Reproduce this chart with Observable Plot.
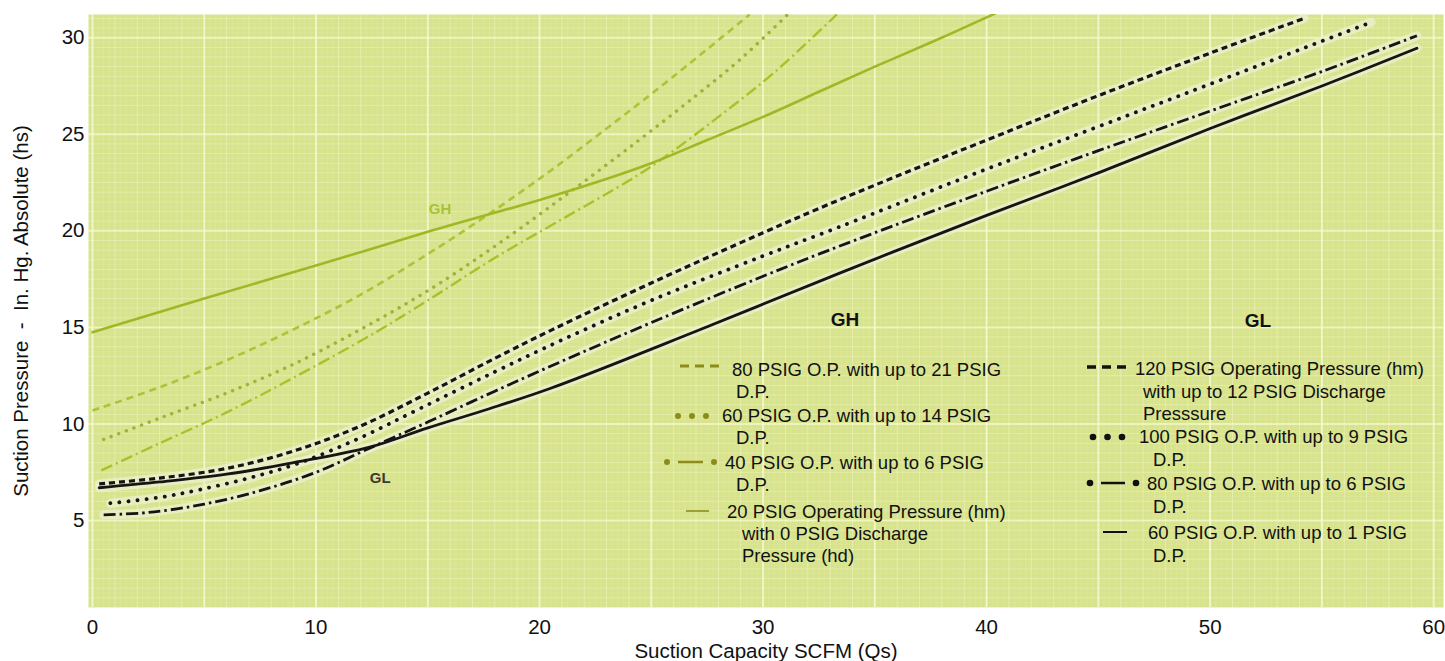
<!DOCTYPE html>
<html>
<head>
<meta charset="utf-8">
<script src="https://cdn.jsdelivr.net/npm/d3@7"></script>
<script src="https://cdn.jsdelivr.net/npm/@observablehq/plot@0.6"></script>
<style>
  html,body{margin:0;padding:0;background:#ffffff;}
  #chart{position:relative;width:1445px;height:661px;font-family:"Liberation Sans",Arial,Helvetica,sans-serif;}
  #chart svg{display:block;}
  #overlay{position:absolute;left:0;top:0;pointer-events:none;}
</style>
</head>
<body>
<div id="chart"></div>
<script>
// ---------------- data ----------------
const xTicks = [0, 10, 20, 30, 40, 50, 60];
const yTicks = [5, 10, 15, 20, 25, 30];

// GH family (yellow-green curves)
const gh20X = [0, 5, 10, 15, 20, 22.5, 25, 27.5, 30, 32.5, 35, 37.5, 40, 41.2];
const gh20Y = [14.75, 16.5, 18.2, 19.95, 21.6, 22.5, 23.5, 24.7, 25.9, 27.2, 28.5, 29.75, 31.05, 31.7];
const gh80X = [0, 3, 6, 9, 12, 15, 17, 20, 23, 26, 29.4];
const gh80Y = [10.7, 11.9, 13.3, 14.9, 16.7, 18.8, 20.3, 22.7, 25.3, 28.0, 31.2];
const gh60X = [0.5, 3, 6, 9, 12, 15, 18, 21, 24, 27, 29, 31.1];
const gh60Y = [9.2, 10.3, 11.6, 13.1, 14.9, 16.9, 19.2, 21.7, 24.3, 27.0, 28.9, 31.2];
const gh40X = [0.4, 3, 6, 9, 12.6, 15, 18, 21, 24, 25.4, 28, 30.5, 33.3];
const gh40Y = [7.6, 9.0, 10.6, 12.4, 14.7, 16.4, 18.6, 20.6, 22.6, 23.65, 25.9, 28.2, 31.2];

// GL family (black curves)
const gl120X = [0.3, 3, 6, 9, 12, 15, 18, 20.6, 25, 30, 33.4, 40, 45, 50, 54.2];
const gl120Y = [6.9, 7.2, 7.7, 8.6, 9.9, 11.6, 13.4, 14.9, 17.3, 19.9, 21.6, 24.7, 27.0, 29.2, 31.0];
const gl100X = [0.8, 3, 4.8, 7, 9.3, 12, 14.65, 18, 21, 25, 30, 33.4, 40, 45, 50, 57.2];
const gl100Y = [5.9, 6.2, 6.6, 7.2, 8.0, 9.3, 10.8, 12.7, 14.35, 16.4, 18.7, 20.2, 23.2, 25.4, 27.6, 30.8];
const gl80X = [0.5, 2.5, 5, 7.5, 10, 12.4, 15, 18, 21, 25, 30, 33.4, 40, 45, 50, 55, 59.25];
const gl80Y = [5.3, 5.42, 5.85, 6.55, 7.5, 8.75, 10.1, 11.7, 13.25, 15.25, 17.65, 19.2, 22.05, 24.15, 26.2, 28.25, 30.1];
const gl60X = [0.3, 3, 6, 9, 12.4, 15, 17.5, 20.5, 27, 33.4, 40, 45, 50, 55, 59.25];
const gl60Y = [6.7, 7.0, 7.4, 8.0, 8.8, 9.8, 10.7, 11.85, 14.8, 17.8, 20.8, 23.0, 25.3, 27.5, 29.45];

// in-plot annotations
const annoText = ["GH", "GL"];
const annoX = [15.55, 12.87];
const annoY = [21.1, 7.2];

// legend texts
const ghTitle = "GH";
const ghLegend = [
  ["80 PSIG O.P. with up to 21 PSIG", "D.P."],
  ["60 PSIG O.P. with up to 14 PSIG", "D.P."],
  ["40 PSIG O.P. with up to 6 PSIG", "D.P."],
  ["20 PSIG Operating Pressure (hm)", "with 0 PSIG Discharge", "Pressure (hd)"]
];
const glTitle = "GL";
const glLegend = [
  ["120 PSIG Operating Pressure (hm)", "with up to 12 PSIG Discharge", "Presssure"],
  ["100 PSIG O.P. with up to 9 PSIG", "D.P."],
  ["80 PSIG O.P. with up to 6 PSIG", "D.P."],
  ["60 PSIG O.P. with up to 1 PSIG", "D.P."]
];

// ---------------- styles ----------------
const FONT = "Liberation Sans, Arial, Helvetica, sans-serif";
const GH_LEG = "#8d8c1a";
const styles = {
  gh80:  {stroke: "#aec23a", strokeWidth: 2.6, strokeDasharray: "7,5", strokeLinecap: "butt"},
  gh60:  {stroke: "#a0b23a", strokeWidth: 3.4, strokeDasharray: "0.1,8", strokeLinecap: "round"},
  gh40:  {stroke: "#a9c22a", strokeWidth: 2.4, strokeDasharray: "12,4,2,4", strokeLinecap: "butt"},
  gh20:  {stroke: "#9fb826", strokeWidth: 2.6},
  gl120: {stroke: "#151512", strokeWidth: 3.2, strokeDasharray: "6,4", strokeLinecap: "butt"},
  gl100: {stroke: "#151512", strokeWidth: 3.8, strokeDasharray: "0.1,9", strokeLinecap: "round"},
  gl80:  {stroke: "#151512", strokeWidth: 2.8, strokeDasharray: "12,4,2.5,4", strokeLinecap: "butt"},
  gl60:  {stroke: "#151512", strokeWidth: 2.8}
};

function rows(xs, ys) { return xs.map((x, i) => ({x, y: ys[i]})); }
const series = [
  ["gh80", gh80X, gh80Y], ["gh60", gh60X, gh60Y], ["gh40", gh40X, gh40Y], ["gh20", gh20X, gh20Y],
  ["gl120", gl120X, gl120Y], ["gl100", gl100X, gl100Y], ["gl80", gl80X, gl80Y], ["gl60", gl60X, gl60Y]
];

const marks = [
  Plot.frame({fill: "#d8e38d", stroke: null}),
  Plot.gridX({interval: 0.25, stroke: "#f3f8c6", strokeOpacity: 0.16, strokeWidth: 1}),
  Plot.gridY({interval: 0.25, stroke: "#f3f8c6", strokeOpacity: 0.14, strokeWidth: 1}),
  Plot.gridX({interval: 1, stroke: "#f3f8c6", strokeOpacity: 0.4, strokeWidth: 1}),
  Plot.gridY({interval: 0.5, stroke: "#f3f8c6", strokeOpacity: 0.35, strokeWidth: 1}),
  Plot.gridX({interval: 5, stroke: "#f7fbd6", strokeOpacity: 0.7, strokeWidth: 2}),
  Plot.gridY({interval: 5, stroke: "#f7fbd6", strokeOpacity: 0.6, strokeWidth: 2})
];
// light halos behind the black curves
for (const [id, xs, ys] of series) {
  if (id.startsWith("gl")) {
    marks.push(Plot.line(rows(xs, ys), {x: "x", y: "y", curve: "catmull-rom", clip: true,
      stroke: "#eef0d2", strokeOpacity: 0.75, strokeWidth: 9}));
  }
}
for (const [id, xs, ys] of series) {
  marks.push(Plot.line(rows(xs, ys), {x: "x", y: "y", curve: "catmull-rom", clip: true, ...styles[id]}));
}
marks.push(Plot.text(annoText.map((t, i) => ({t, x: annoX[i], y: annoY[i]})), {
  x: "x", y: "y", text: "t", fontWeight: "bold", fontSize: 15,
  fill: d => d.t === "GH" ? "#a9c234" : "#3a3a30"
}));
marks.push(Plot.axisX({ticks: xTicks, tickSize: 0, tickPadding: 12, fontSize: 20.5, fill: "#111",
  label: "Suction Capacity SCFM (Qs)", labelAnchor: "center", labelOffset: 50, labelArrow: "none"}));
marks.push(Plot.axisY({ticks: yTicks, tickSize: 0, tickPadding: 4, fontSize: 20.5, fill: "#111",
  label: "Suction Pressure \u00a0-\u00a0 In. Hg. Absolute (hs)", labelAnchor: "center", labelOffset: 75, labelArrow: "none"}));

const chart = Plot.plot({
  width: 1445, height: 661,
  marginLeft: 88, marginRight: 2, marginTop: 14, marginBottom: 54,
  x: {domain: [-0.179, 60.44]},
  y: {domain: [0.5, 31.2]},
  style: {fontFamily: FONT, fontSize: "21px", color: "#111", background: "transparent"},
  marks
});
const host = document.getElementById("chart");
host.appendChild(chart);

// ---------------- legend overlay ----------------
const svg = d3.select(host).append("svg").attr("id", "overlay")
  .attr("width", 1445).attr("height", 661)
  .style("font-family", FONT);

const LFS = 18.5;
function legendBlock(title, titleX, titleY, entries, layout, color) {
  svg.append("text").attr("x", titleX).attr("y", titleY + 7).attr("text-anchor", "middle")
    .attr("font-weight", "bold").attr("font-size", 19).attr("fill", "#111").text(title);
  entries.forEach((lines, i) => {
    const L = layout[i];
    lines.forEach((t, j) => {
      svg.append("text").attr("x", j === 0 ? L.tx : L.cx).attr("y", L.ys[j] + 6.6)
        .attr("font-size", LFS).attr("fill", "#111").text(t);
    });
    const sy = L.sy;
    const g = svg.append("g").attr("stroke", color).attr("fill", color);
    if (L.kind === "dash") {
      g.append("line").attr("x1", L.s0).attr("x2", L.s1).attr("y1", sy).attr("y2", sy)
        .attr("stroke-width", L.w).attr("stroke-dasharray", "9,6");
    } else if (L.kind === "dot") {
      [0, 1, 2].forEach(k => g.append("circle").attr("cx", L.s0 + k * (L.s1 - L.s0) / 2).attr("cy", sy).attr("r", L.r).attr("stroke", "none"));
    } else if (L.kind === "dashdot") {
      g.append("circle").attr("cx", L.s0).attr("cy", sy).attr("r", L.r).attr("stroke", "none");
      g.append("circle").attr("cx", L.s1).attr("cy", sy).attr("r", L.r).attr("stroke", "none");
      g.append("line").attr("x1", L.s0 + 11).attr("x2", L.s1 - 11).attr("y1", sy).attr("y2", sy).attr("stroke-width", L.w);
    } else {
      g.append("line").attr("x1", L.s0).attr("x2", L.s1).attr("y1", sy).attr("y2", sy).attr("stroke-width", L.w);
    }
  });
}
legendBlock(ghTitle, 845, 319, ghLegend, [
  {kind: "dash", s0: 680, s1: 719, sy: 366, w: 3, tx: 732, cx: 736, ys: [369, 391]},
  {kind: "dot", s0: 678, s1: 706, sy: 416, r: 3, tx: 722, cx: 736, ys: [415, 437]},
  {kind: "dashdot", s0: 667, s1: 714, sy: 462, r: 3, w: 2.5, tx: 725, cx: 736, ys: [462, 484]},
  {kind: "solid", s0: 686, s1: 709, sy: 511, w: 1.6, tx: 727, cx: 742, ys: [511, 533, 555]}
], GH_LEG);
legendBlock(glTitle, 1258, 320, glLegend, [
  {kind: "dash", s0: 1087, s1: 1127, sy: 367, w: 3.5, tx: 1135, cx: 1143, ys: [368, 391, 413]},
  {kind: "dot", s0: 1093, s1: 1122, sy: 437, r: 3.3, tx: 1139, cx: 1153, ys: [436, 459]},
  {kind: "dashdot", s0: 1090, s1: 1136, sy: 483, r: 3.3, w: 2.5, tx: 1147, cx: 1153, ys: [483, 506]},
  {kind: "solid", s0: 1103, s1: 1127, sy: 532, w: 2, tx: 1148, cx: 1153, ys: [532, 555]}
], "#111");
</script>
</body>
</html>
